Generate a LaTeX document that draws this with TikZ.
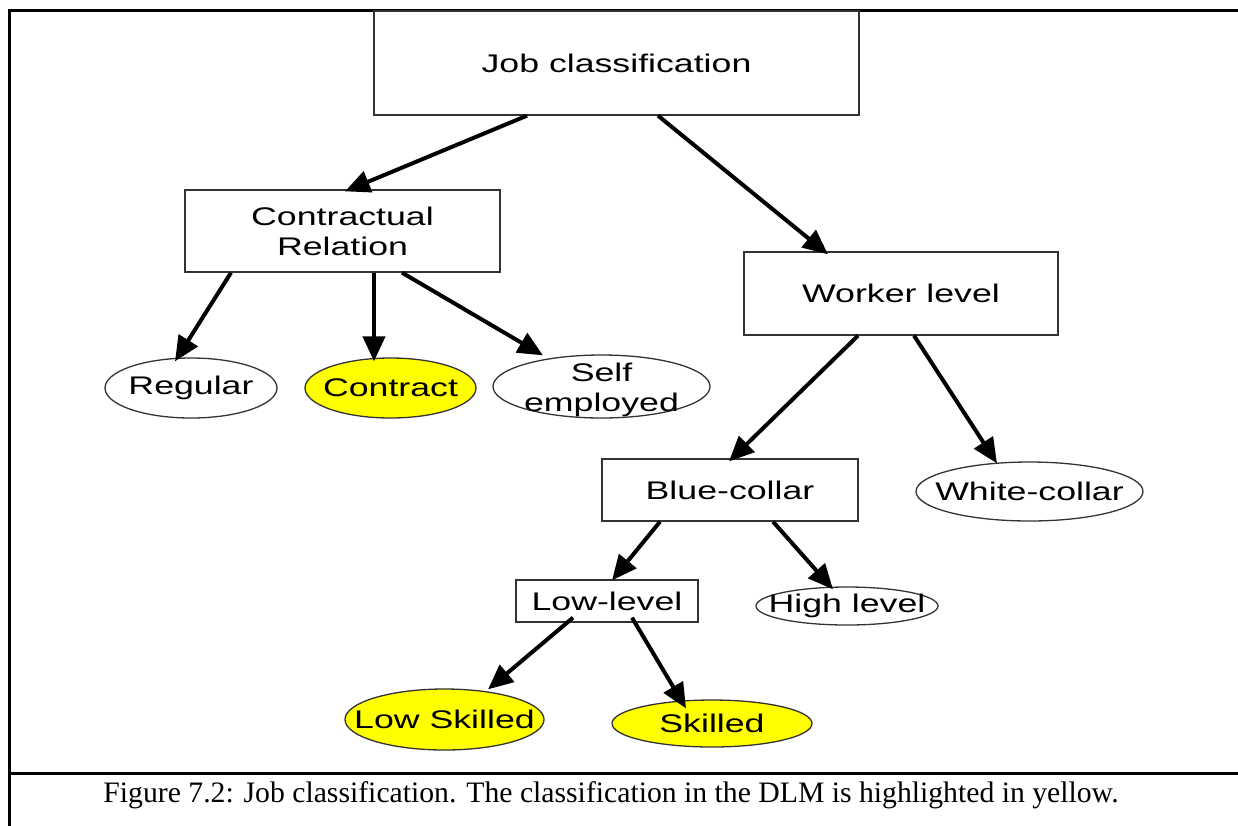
\documentclass[tikz,border=0pt]{standalone}
\usepackage{fontspec}
\usetikzlibrary{shapes.geometric,arrows.meta}
\newfontfamily\dgfont[FakeStretch=1.4]{Liberation Sans}
\newfontfamily\capfont{Liberation Serif}
\definecolor{hl}{HTML}{FFFF00}
\definecolor{edge}{HTML}{333333}
\tikzset{
  box/.style={draw=edge, line width=1.3pt, rectangle, inner sep=0pt, font=\dgfont\fontsize{25.5}{30}\selectfont, align=center},
  ell/.style={draw=edge, line width=1.3pt, ellipse, inner sep=0pt},
  txt/.style={inner sep=0pt, font=\dgfont\fontsize{25.5}{30}\selectfont, align=center},
  conn/.style={line width=4pt, -{Triangle[length=25pt,width=22pt]}},
  frame/.style={line width=3pt, line cap=rect}
}
\begin{document}
\begin{tikzpicture}[x=1pt,y=-1pt]
\useasboundingbox (0,0) rectangle (1238,825);
% frame
\coordinate (ftl) at (9,10);
\coordinate (ftr) at (1240,10);
\coordinate (fbl) at (9,827);
\coordinate (fml) at (9,773);
\coordinate (fmr) at (1240,773);
\draw[frame] (fbl) -- (ftl) -- (ftr);
\draw[frame] (fml) -- (fmr);
% nodes
\node[box, minimum width=485pt, minimum height=104pt] (job) at (616.5,63) {Job classification};
\node[box, minimum width=315pt, minimum height=82pt] (contr) at (342.5,231) {Contractual\\Relation};
\node[box, minimum width=314pt, minimum height=83pt] (worker) at (901,293.5) {Worker level};
\node[ell, minimum width=172pt, minimum height=60pt, label={[txt]center:Regular}] (regular) at (191,388) {};
\node[ell, fill=hl, minimum width=171pt, minimum height=60pt, label={[txt]center:Contract}] (contract) at (390.5,388) {};
\node[ell, minimum width=217pt, minimum height=63pt] (self) at (601.5,386.5) {};
\node[txt] (selftxt) at ([yshift=-3pt]self.center) {Self\\employed};
\node[box, minimum width=256pt, minimum height=62pt] (blue) at (730,490) {Blue-collar};
\node[ell, minimum width=227pt, minimum height=59pt, label={[txt]center:White-collar}] (white) at (1029.5,491.5) {};
\node[box, minimum width=182pt, minimum height=42pt] (low) at (607,601) {Low-level};
\node[ell, minimum width=182pt, minimum height=38pt, label={[txt]center:High level}] (high) at (847,606) {};
\node[ell, fill=hl, minimum width=199pt, minimum height=61pt, label={[txt]center:Low Skilled}] (lowsk) at (444.5,719.5) {};
\node[ell, fill=hl, minimum width=200pt, minimum height=47pt, label={[txt]center:Skilled}] (sk) at (712,723.5) {};
% connectors
\draw[conn] ([xshift=-89.5pt]job.south) -- ([xshift=2.5pt,yshift=-2pt]contr.north);
\draw[conn] ([xshift=41.5pt]job.south) -- ([xshift=-73pt,yshift=-3pt]worker.north);
\draw[conn] ([xshift=-111.5pt]contr.south) -- ([xshift=-16pt,yshift=-4pt]regular.north);
\draw[conn] ([xshift=31.5pt]contr.south) -- ([xshift=-16.5pt,yshift=-4pt]contract.north);
\draw[conn] ([xshift=59.5pt]contr.south) -- ([xshift=-58.5pt,yshift=-1pt]self.north);
\draw[conn] ([xshift=-43pt]worker.south) -- ([xshift=-1pt,yshift=-3pt]blue.north);
\draw[conn] ([xshift=13pt]worker.south) -- ([xshift=-32.5pt,yshift=-2pt]white.north);
\draw[conn] ([xshift=-70pt]blue.south) -- ([xshift=5pt,yshift=-1pt]low.north);
\draw[conn] ([xshift=43pt]blue.south) -- ([xshift=-14pt,yshift=-3pt]high.north);
\draw[conn] ([xshift=-34pt,yshift=5pt]low.south) -- ([xshift=43.5pt,yshift=-1pt]lowsk.north);
\draw[conn] ([xshift=25pt,yshift=5pt]low.south) -- ([xshift=-26pt,yshift=-9pt]sk.north);
% caption
\node[anchor=base, inner sep=0pt, font=\capfont\fontsize{29.7}{32}\selectfont] (cap) at (611,802) {Figure 7.2: Job classification. The classification in the DLM is highlighted in yellow.};
\end{tikzpicture}
\end{document}
